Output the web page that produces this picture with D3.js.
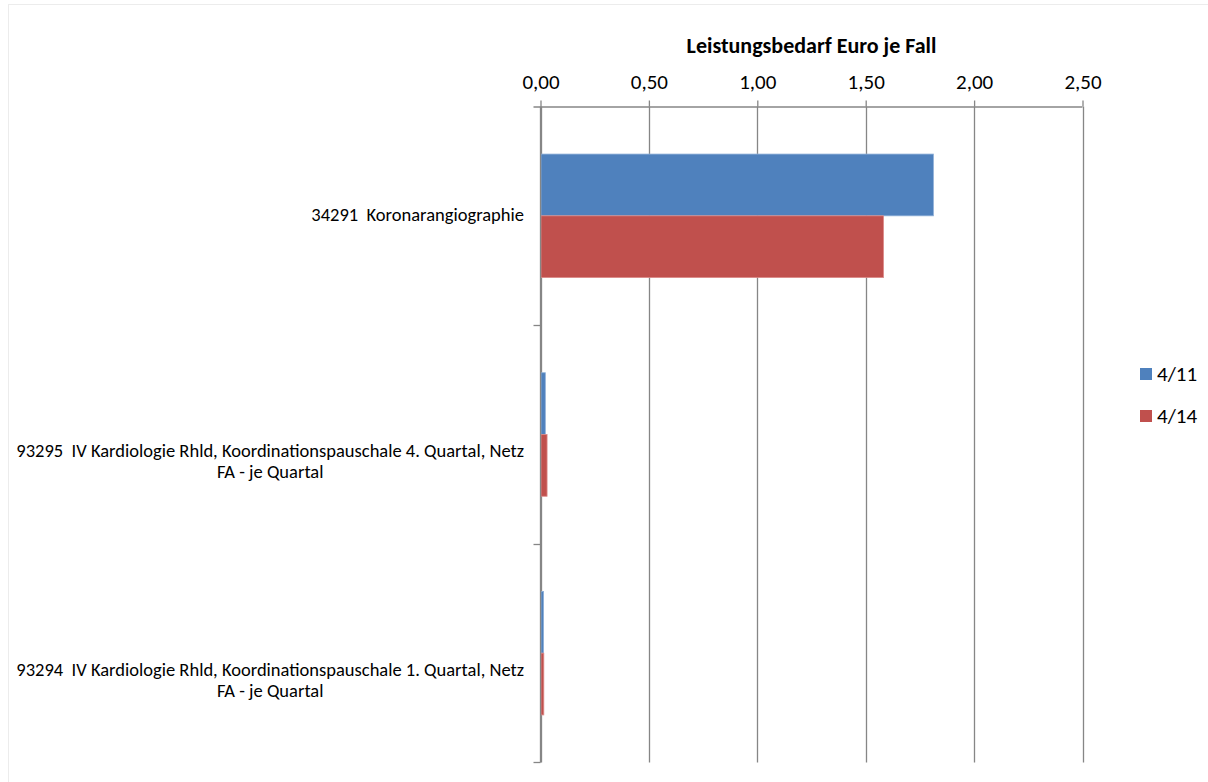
<!DOCTYPE html>
<html>
<head>
<meta charset="utf-8">
<script src="https://cdn.jsdelivr.net/npm/d3@7"></script>
<style>
  html, body { margin: 0; padding: 0; background: #fff; }
  svg text { font-family: Carlito, Calibri, Lato, sans-serif; fill: #000; white-space: pre; }
</style>
</head>
<body>
<svg id="chart" width="1208" height="782"></svg>
<script>
// Leistungsbedarf (Euro je Fall) nach Gebührenordnungsposition, Quartal 4/11 vs. 4/14
const categories = [
  "34291  Koronarangiographie",
  "93295  IV Kardiologie Rhld, Koordinationspauschale 4. Quartal, Netz\nFA - je Quartal",
  "93294  IV Kardiologie Rhld, Koordinationspauschale 1. Quartal, Netz\nFA - je Quartal"
];
const seriesNames = ["4/11", "4/14"];
const values411 = [1.81, 0.02, 0.012];
const values414 = [1.58, 0.028, 0.013];
const tickValues = [0, 0.5, 1.0, 1.5, 2.0, 2.5];
const axisTitle = "Leistungsbedarf Euro je Fall";
const colors = ["#4F81BD", "#C0504D"];

const series = [values411, values414];
const rows = categories.map((c, i) => ({ cat: c, vals: series.map(s => s[i]) }));

const svg = d3.select("#chart");

// outer chart frame
svg.append("rect")
  .attr("x", 8.5).attr("y", 4.5).attr("width", 1240).attr("height", 820)
  .attr("fill", "none").attr("stroke", "#ececec");

const plot = { left: 540.5, right: 1082.5, top: 106.5, bottom: 762.5 };

const x = d3.scaleLinear().domain([0, 2.5]).range([plot.left, plot.right]);
const y = d3.scaleBand().domain(categories).range([plot.top, plot.bottom]).paddingInner(0).paddingOuter(0);
const inner = d3.scaleBand().domain(seriesNames).range([0, y.bandwidth()]).paddingInner(0).paddingOuter(0.77);

const gridColor = "#868686";

// vertical gridlines
svg.append("g").selectAll("line").data(tickValues).join("line")
  .attr("x1", d => Math.round(x(d)) + 0.5).attr("x2", d => Math.round(x(d)) + 0.5)
  .attr("y1", plot.top).attr("y2", plot.bottom)
  .attr("stroke", gridColor).attr("stroke-width", 1.3);

// bars
const groups = svg.append("g").selectAll("g").data(rows).join("g")
  .attr("transform", d => `translate(0,${y(d.cat)})`);
groups.selectAll("rect").data(d => d.vals.map((v, j) => ({ v, j }))).join("rect")
  .attr("x", x(0) + 0.5)
  .attr("y", d => inner(seriesNames[d.j]))
  .attr("width", d => Math.max(0, x(d.v) - x(0)))
  .attr("height", inner.bandwidth())
  .attr("fill", d => colors[d.j])
  .attr("stroke", d => d.j === 0 ? "#8fb0d8" : "#dc8c8a")
  .attr("stroke-width", 0.8);

// value axis on top
const xAxis = d3.axisTop(x).tickValues(tickValues)
  .tickFormat(d => d3.format(".2f")(d).replace(".", ","))
  .tickSize(6).tickPadding(12);
const gx = svg.append("g").attr("transform", `translate(0,${plot.top})`).call(xAxis);
gx.select(".domain").remove();
gx.selectAll(".tick line").attr("stroke", gridColor).attr("stroke-width", 1.3);
gx.selectAll(".tick text").style("font-size", "21px").attr("fill", "#000");
svg.append("line")
  .attr("x1", plot.left - 7).attr("x2", plot.right)
  .attr("y1", plot.top + 0.5).attr("y2", plot.top + 0.5)
  .attr("stroke", gridColor).attr("stroke-width", 1.3);

// category axis
svg.append("line")
  .attr("x1", plot.left).attr("x2", plot.left)
  .attr("y1", plot.top).attr("y2", plot.bottom)
  .attr("stroke", gridColor).attr("stroke-width", 1.3);
const boundaries = [plot.top].concat(categories.map(c => y(c) + y.bandwidth()));
svg.append("g").selectAll("line").data(boundaries.slice(1)).join("line")
  .attr("x1", plot.left - 7).attr("x2", plot.left)
  .attr("y1", d => Math.round(d) + 0.5).attr("y2", d => Math.round(d) + 0.5)
  .attr("stroke", gridColor).attr("stroke-width", 1.3);

// category labels: box right-aligned next to the axis, each line centred in the box
const labelRight = 524;
const labelG = svg.append("g");
rows.forEach(r => {
  const lines = r.cat.split("\n");
  const g = labelG.append("g");
  const texts = lines.map((ln, k) => g.append("text")
    .text(ln)
    .style("font-size", "18.5px")
    .attr("dy", "0.35em"));
  const widths = texts.map(t => t.node().getComputedTextLength());
  const boxW = d3.max(widths);
  const cx = labelRight - boxW / 2;
  const mid = y(r.cat) + y.bandwidth() / 2;
  const firstY = lines.length > 1 ? mid + 16 : mid - 1;
  texts.forEach((t, k) => t.attr("x", cx).attr("y", firstY + k * 21).attr("text-anchor", "middle"));
});

// axis title
svg.append("text")
  .attr("x", x(1.25)).attr("y", 45)
  .attr("text-anchor", "middle").attr("dy", "0.35em")
  .style("font-size", "22px").style("font-weight", "bold")
  .text(axisTitle);

// legend
const legend = svg.append("g").selectAll("g").data(seriesNames).join("g")
  .attr("transform", (d, i) => `translate(1140,${368 + i * 42})`);
legend.append("rect").attr("width", 12).attr("height", 12).attr("fill", (d, i) => colors[i]);
legend.append("text").attr("x", 17).attr("y", 6).attr("dy", "0.35em")
  .style("font-size", "21px").text(d => d);
</script>
</body>
</html>
